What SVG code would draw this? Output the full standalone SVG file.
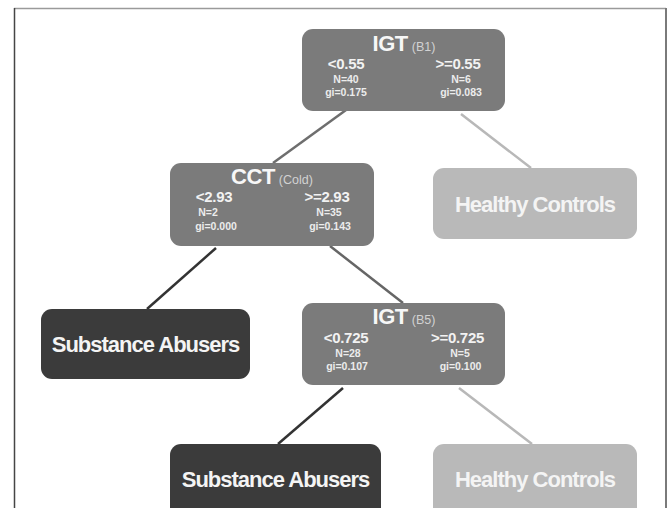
<svg xmlns="http://www.w3.org/2000/svg" width="669" height="508" viewBox="0 0 669 508">
<style>
text{font-family:"Liberation Sans",Arial,sans-serif;text-anchor:middle}
.split rect{fill:#7b7b7b}
.sa rect{fill:#3b3b3b}
.hc rect{fill:#b9b9b9}
.title{font-size:22px;font-weight:bold;letter-spacing:-0.5px;fill:#f7f7f7}
.sub{font-size:12.5px;fill:#d2d2d2}
.cond{font-size:15px;font-weight:bold;letter-spacing:-0.3px;fill:#f2f2f2}
.small{font-size:10.5px;font-weight:bold;fill:#ececec}
.leaf{font-size:22px;font-weight:bold;letter-spacing:-1px;fill:#f4f4f4}
.edge{stroke-width:2.5;fill:none}
</style>
<rect x="0" y="0" width="669" height="508" fill="#ffffff"/>
<g id="frame">
<line x1="14" y1="8.5" x2="666" y2="8.5" stroke="#9a9a9a" stroke-width="1.5"/>
<line x1="14.5" y1="8" x2="14.5" y2="508" stroke="#454545" stroke-width="1.5"/>
<line x1="666" y1="8" x2="666" y2="508" stroke="#7a7a7a" stroke-width="2"/>
</g>
<g id="connectors">
<line class="edge" x1="346" y1="110" x2="273" y2="163" stroke="#6e6e6e"/>
<line class="edge" x1="461" y1="114" x2="531" y2="168" stroke="#b8b8b8"/>
<line class="edge" x1="216" y1="248" x2="147" y2="309" stroke="#333333"/>
<line class="edge" x1="330" y1="246" x2="403" y2="303" stroke="#666666"/>
<line class="edge" x1="343" y1="388" x2="278" y2="444" stroke="#333333"/>
<line class="edge" x1="459" y1="388" x2="532" y2="444" stroke="#b8b8b8"/>
</g>
<g id="igt-b1" class="split">
<rect x="302" y="29" width="203" height="82" rx="11"/>
<text x="404" y="51"><tspan class="title">IGT</tspan><tspan class="sub" dx="4">(B1)</tspan></text>
<text class="cond" x="346" y="68.5">&lt;0.55</text>
<text class="cond" x="458" y="68.5">&gt;=0.55</text>
<text class="small" x="346" y="82.5">N=40</text>
<text class="small" x="461" y="82.5">N=6</text>
<text class="small" x="346" y="95.5">gi=0.175</text>
<text class="small" x="461" y="95.5">gi=0.083</text>
</g>
<g id="cct" class="split">
<rect x="170" y="163" width="204" height="83" rx="11"/>
<text x="272" y="184"><tspan class="title">CCT</tspan><tspan class="sub" dx="4">(Cold)</tspan></text>
<text class="cond" x="214" y="202">&lt;2.93</text>
<text class="cond" x="327" y="202">&gt;=2.93</text>
<text class="small" x="208" y="216">N=2</text>
<text class="small" x="329" y="216">N=35</text>
<text class="small" x="216" y="229.5">gi=0.000</text>
<text class="small" x="330" y="229.5">gi=0.143</text>
</g>
<g id="healthy-controls-1" class="hc">
<rect x="433" y="168" width="204" height="71" rx="11"/>
<text class="leaf" x="535" y="211.5">Healthy Controls</text>
</g>
<g id="substance-abusers-1" class="sa">
<rect x="41" y="309" width="209" height="70" rx="11"/>
<text class="leaf" x="145.5" y="351.5">Substance Abusers</text>
</g>
<g id="igt-b5" class="split">
<rect x="302" y="303" width="203" height="82" rx="11"/>
<text x="404" y="324"><tspan class="title">IGT</tspan><tspan class="sub" dx="4">(B5)</tspan></text>
<text class="cond" x="346" y="342.5">&lt;0.725</text>
<text class="cond" x="457.5" y="342.5">&gt;=0.725</text>
<text class="small" x="348" y="356.5">N=28</text>
<text class="small" x="460" y="356.5">N=5</text>
<text class="small" x="347" y="370">gi=0.107</text>
<text class="small" x="460.5" y="370">gi=0.100</text>
</g>
<g id="substance-abusers-2" class="sa">
<rect x="170" y="444" width="211" height="80" rx="11"/>
<text class="leaf" x="275.5" y="486.5">Substance Abusers</text>
</g>
<g id="healthy-controls-2" class="hc">
<rect x="433" y="444" width="204" height="80" rx="11"/>
<text class="leaf" x="535" y="486.5">Healthy Controls</text>
</g>
</svg>
